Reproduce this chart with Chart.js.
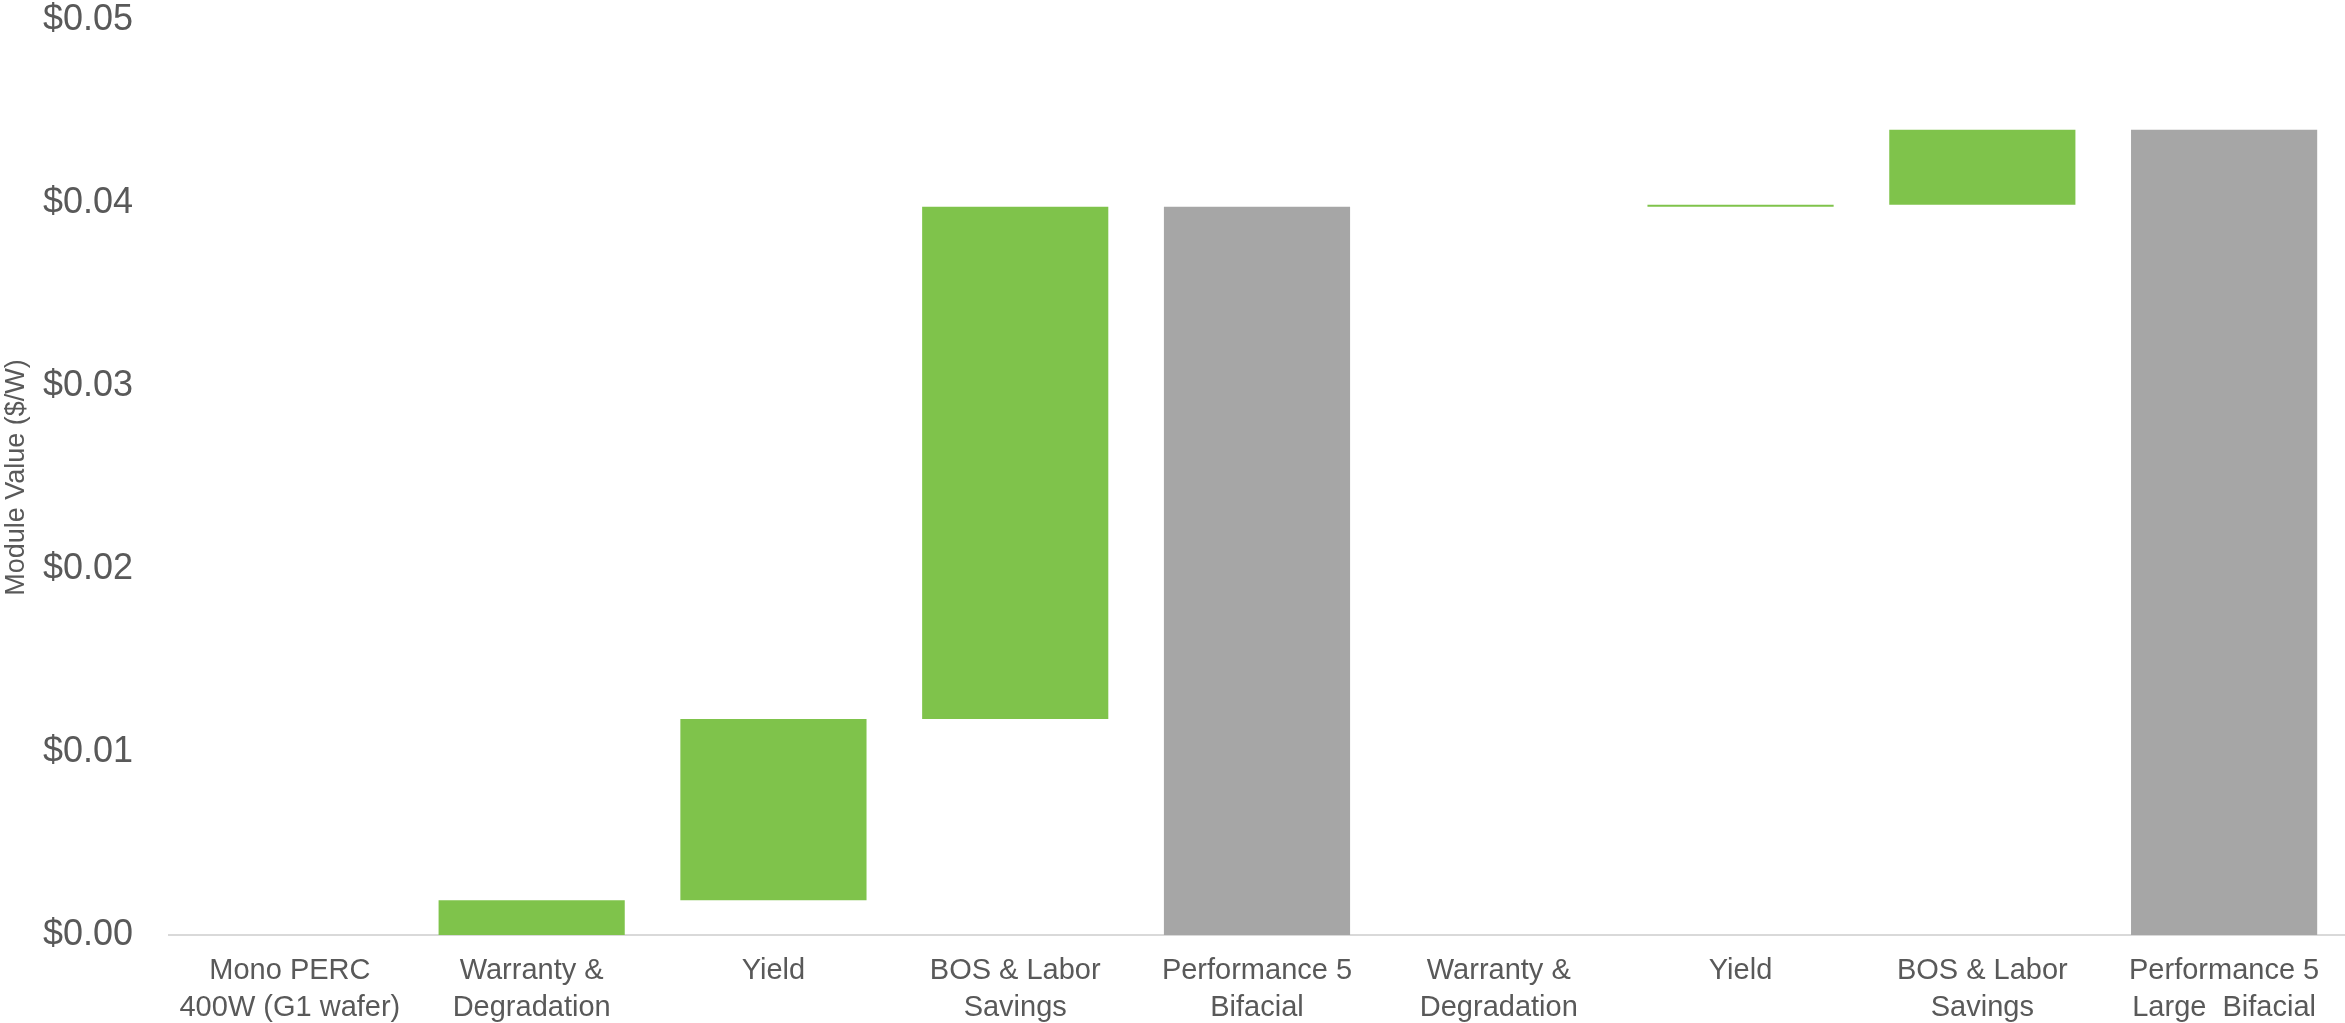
<!DOCTYPE html>
<html>
<head>
<meta charset="utf-8">
<script src="https://cdn.jsdelivr.net/npm/chart.js@4.4.0/dist/chart.umd.min.js"></script>
<style>
  html, body { margin: 0; padding: 0; background: #fff; }
  #wrap { position: relative; width: 2345px; height: 1023px; }
</style>
</head>
<body>
<div id="wrap"><canvas id="waterfall"></canvas></div>
<script>
// categories (multi-line labels)
const categories = [
  ['Mono PERC', '400W (G1 wafer)'],
  ['Warranty &', 'Degradation'],
  ['Yield'],
  ['BOS & Labor', 'Savings'],
  ['Performance 5', 'Bifacial'],
  ['Warranty &', 'Degradation'],
  ['Yield'],
  ['BOS & Labor', 'Savings'],
  ['Performance 5', 'Large  Bifacial']
];
// bar bottoms and tops, $/W
const barLow  = [0, 0,      0.0019, 0.0118, 0, 0.0398, 0.0398, 0.0399, 0];
const barHigh = [0, 0.0019, 0.0118, 0.0398, 0.0398, 0.0398, 0.0399, 0.0440, 0.0440];
// which bars are totals (drawn grey)
const totalIdx = [0, 4, 8];
const yTicks = [0, 0.01, 0.02, 0.03, 0.04, 0.05];

const GREEN = '#7FC34B';
const GREY = '#A6A6A6';
const TEXT = '#595959';

const floating = barLow.map((lo, i) => [lo, barHigh[i]]);
const colors = barLow.map((_, i) => totalIdx.includes(i) ? GREY : GREEN);

new Chart(document.getElementById('waterfall'), {
  type: 'bar',
  data: {
    labels: categories,
    datasets: [{
      data: floating,
      backgroundColor: colors,
      borderWidth: 0,
      categoryPercentage: 0.77,
      barPercentage: 1.0
    }]
  },
  options: {
    responsive: true,
    maintainAspectRatio: false,
    animation: false,
    layout: { padding: { top: 20, right: 0, left: 0, bottom: 0 } },
    plugins: {
      legend: { display: false },
      tooltip: { enabled: false }
    },
    scales: {
      x: {
        grid: { display: false, drawTicks: false },
        border: { display: true, color: '#D9D9D9', width: 2 },
        ticks: {
          color: TEXT,
          font: { family: 'Liberation Sans, Arial, sans-serif', size: 29, lineHeight: 1.27 },
          padding: 18,
          maxRotation: 0,
          autoSkip: false
        },
        afterFit: (scale) => {
          scale.height = 88;
          scale.paddingLeft = 0;
          scale.paddingRight = 0;
        }
      },
      y: {
        min: 0,
        max: 0.05,
        afterBuildTicks: (scale) => { scale.ticks = yTicks.map(v => ({ value: v })); },
        grid: { display: false, drawTicks: false },
        border: { display: false },
        ticks: {
          color: TEXT,
          font: { family: 'Liberation Sans, Arial, sans-serif', size: 36 },
          padding: 36,
          callback: (v) => '$' + Number(v).toFixed(2)
        },
        title: {
          display: true,
          text: 'Module Value ($/W)',
          color: TEXT,
          font: { family: 'Liberation Sans, Arial, sans-serif', size: 27 },
          padding: 0
        },
        afterFit: (scale) => {
          scale.width = 169;
          scale.paddingTop = 0;
          scale.paddingBottom = 0;
        }
      }
    }
  }
});
</script>
</body>
</html>
